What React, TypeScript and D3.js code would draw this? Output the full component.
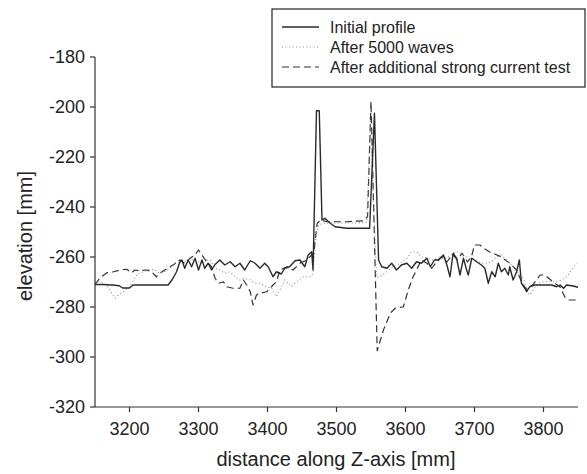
import React from "react";
import * as d3 from "d3";

type Pt = [number, number];

const xTicks = [3200, 3300, 3400, 3500, 3600, 3700, 3800];
const yTicks = [-180, -200, -220, -240, -260, -280, -300, -320];
const seriesNames = ["Initial profile", "After 5000 waves", "After additional strong current test"];

const initialProfile: Pt[] = [
  [3150,-271],[3160,-271],[3175,-271.2],[3185,-271.5],[3190,-272.4],[3200,-272.4],[3205,-271.2],[3256,-271.2],
  [3262,-269],[3268,-266],[3273,-262],[3276,-261.2],[3280,-264.5],[3285,-261.2],[3290,-263.9],[3295,-260.5],
  [3300,-265.2],[3305,-261.2],[3309,-264.5],[3314,-262.5],[3319,-265.2],[3324,-263],[3331,-261.2],[3338,-263.2],
  [3346,-261.9],[3353,-263.9],[3360,-262.5],[3367,-265.2],[3375,-261.5],[3382,-262.5],[3389,-264.5],[3396,-262.5],
  [3401,-263.9],[3408,-267.9],[3413,-265.9],[3420,-266.8],[3425,-264.5],[3432,-263.9],[3440,-261.5],[3447,-261.2],
  [3454,-263.9],[3459,-259.2],[3464,-257.9],[3466,-265.2],[3471,-201.5],[3475,-201.5],[3479,-245.2],[3483,-244.5],
  [3491,-246.5],[3498,-247.9],[3515,-248.5],[3548,-248.5],[3555,-202.5],[3561,-261.2],[3565.5,-263.9],[3573,-264.5],
  [3580,-262.5],[3587,-265.2],[3594,-263.2],[3602,-262.5],[3609,-264.5],[3616,-261.9],[3623,-262.5],[3631,-260.5],
  [3636,-263.9],[3642,-261.2],[3648,-261.2],[3655,-259.2],[3660,-263.2],[3664.5,-267.9],[3669,-258.5],[3674,-260.5],
  [3679,-267.2],[3684,-260.5],[3688.6,-265.2],[3691,-267.2],[3696,-260.5],[3703,-261.9],[3710,-263.2],[3715,-264.5],
  [3720,-270.5],[3725,-265.9],[3730,-267.9],[3734.5,-262.5],[3739,-265.9],[3744,-264.5],[3749,-267.2],[3751,-263.9],
  [3756,-269.2],[3761,-265.9],[3765,-261.2],[3768,-270.5],[3773,-272.5],[3775.6,-273.9],[3780,-271.9],[3787.6,-271.2],
  [3800,-271.2],[3812,-271.2],[3819,-271.9],[3824,-271.2],[3829,-272.5],[3833.5,-271.2],[3843,-271.6],[3850,-272.1],
];

const after5000Waves: Pt[] = [
  [3150,-270],[3157,-269.9],[3167,-271.2],[3174,-274.5],[3179,-276.5],[3184,-275.2],[3191,-273.9],[3198,-272.5],
  [3203,-270.5],[3208,-268.5],[3213,-266.5],[3220,-265.9],[3230,-264.9],[3237,-265.2],[3244,-266.5],[3249,-266.3],
  [3254,-265.2],[3261,-263.9],[3266,-262.3],[3271,-261.5],[3278,-261.9],[3285,-261.2],[3292,-260.9],[3302,-261.9],
  [3307,-260.5],[3312,-261.2],[3317,-261.2],[3324,-264.5],[3331,-265.2],[3338,-266.5],[3346,-265.9],[3353,-267.9],
  [3360,-269.2],[3367,-268.5],[3375,-269.2],[3382,-270.5],[3389,-270.5],[3399,-271.9],[3406,-272.5],[3413,-275.9],
  [3418,-273.2],[3425,-269.2],[3430,-270.5],[3435,-271.9],[3442,-269.9],[3452,-267.9],[3462,-267.9],[3466,-266.5],
  [3470,-251.9],[3474,-247.2],[3481,-246.5],[3544,-246.2],[3549,-205],[3558,-268],[3563,-267.9],[3573,-265.9],
  [3582,-263.9],[3592,-262.5],[3602,-260.5],[3609,-257.9],[3616,-257.9],[3623,-259.9],[3631,-260.5],[3640,-261.2],
  [3650,-259.9],[3660,-260.5],[3669,-258.5],[3677,-257.9],[3684,-259.2],[3693,-260.5],[3703,-261.2],[3710,-262.5],
  [3718,-262.5],[3725,-261.9],[3732,-259.9],[3739,-259.2],[3744,-260.5],[3749,-261.9],[3756,-263.9],[3763.5,-266.5],
  [3771,-268.5],[3775.6,-273.2],[3780,-275.2],[3785,-273.2],[3792,-270.5],[3800,-269.9],[3819,-269.9],[3826,-269.2],
  [3833.5,-267.9],[3841,-265.2],[3848,-262.5],
];

const afterStrongCurrent: Pt[] = [
  [3150,-271],[3157,-268.5],[3167,-266.3],[3177,-265.9],[3186,-265.2],[3196,-264.9],[3203,-266.3],[3208,-265.2],
  [3215,-265.5],[3225,-265.2],[3232,-265.9],[3239,-267.9],[3244,-266.5],[3251,-265.2],[3259,-263.9],[3268,-262.3],
  [3273,-261.2],[3280,-262.5],[3288,-260.5],[3295,-259.2],[3300,-257.2],[3305,-259.2],[3312,-261.9],[3319,-263.9],
  [3324,-268.5],[3329,-270.5],[3336,-269.9],[3341,-271.9],[3350,-272.5],[3360,-272.5],[3365,-269.2],[3370,-271.2],
  [3375,-273.9],[3379,-279.2],[3384,-275.2],[3389,-274.5],[3399,-273.9],[3404,-272.5],[3408,-271.2],[3413,-269.9],
  [3418,-265.2],[3428,-263.9],[3437,-265.2],[3447,-262.5],[3457,-261.2],[3464,-259.2],[3467,-258.5],[3472,-246.5],
  [3478,-245.2],[3486,-245.9],[3515,-245.9],[3539,-245.5],[3545,-243.9],[3550,-197.9],[3559,-297.5],[3568,-289.2],
  [3578,-282.5],[3585,-280.5],[3597,-279.9],[3604,-273.2],[3611,-267.9],[3616,-265.2],[3623,-261.2],[3631,-262.5],
  [3638,-264.5],[3645,-262],[3652,-260],[3660,-262],[3668,-259],[3675,-261],[3682,-258.5],[3690,-262],
  [3696,-259.5],[3700,-255.2],[3708,-255.2],[3713,-256.5],[3722,-258],[3727,-258.5],[3739,-260],[3751,-262.5],
  [3761,-265.2],[3770,-271],[3776,-273],[3785,-271],[3795,-267.2],[3802,-267.2],[3814,-270],[3824,-272],
  [3831,-276],[3836,-277.2],[3848,-277.2],
];

const FONT = '"Liberation Sans", Arial, Helvetica, sans-serif';

export default function App() {
  const W = 587, H = 474;
  const x = d3.scaleLinear().domain([3150, 3850]).range([95, 578]);
  const y = d3.scaleLinear().domain([-320, -180]).range([407, 57]);
  const line = d3.line<Pt>().x((d) => x(d[0])).y((d) => y(d[1]));

  const styles = [
    { stroke: "#2a2a2a", width: 1.4, dash: "none" },
    { stroke: "#8a8a8a", width: 1.1, dash: "1,2.5" },
    { stroke: "#333", width: 1.2, dash: "7,4" },
  ];
  const data = [initialProfile, after5000Waves, afterStrongCurrent];
  const axisColor = "#333";
  const x0 = x.range()[0];
  const yBottom = y(-320);

  return (
    <svg width={W} height={H} style={{ position: "absolute", left: 0, top: 0, background: "#fff" }} fontFamily={FONT}>
      {/* data lines */}
      {[2, 1, 0].map((i) => (
        <path key={i} d={line(data[i]) || ""} fill="none" stroke={styles[i].stroke}
          strokeWidth={styles[i].width} strokeDasharray={styles[i].dash} strokeLinejoin="round" />
      ))}
      {/* y axis */}
      <line x1={x0} x2={x0} y1={y(-180)} y2={yBottom} stroke={axisColor} strokeWidth={1.2} />
      {yTicks.map((t) => (
        <g key={t}>
          <line x1={x0 - 5} x2={x0} y1={y(t)} y2={y(t)} stroke={axisColor} strokeWidth={1.2} />
          <text x={x0 - 10} y={y(t)} dy="0.36em" textAnchor="end" fontSize={18} fill="#222">{t}</text>
        </g>
      ))}
      {/* x axis */}
      <line x1={x0} x2={x.range()[1]} y1={yBottom} y2={yBottom} stroke={axisColor} strokeWidth={1.2} />
      {xTicks.map((t) => (
        <g key={t}>
          <line x1={x(t)} x2={x(t)} y1={yBottom} y2={yBottom + 5} stroke={axisColor} strokeWidth={1.2} />
          <text x={x(t)} y={yBottom + 28} textAnchor="middle" fontSize={18} fill="#222">{t}</text>
        </g>
      ))}
      <text x={336} y={466} textAnchor="middle" fontSize={20} fill="#222">distance along Z-axis [mm]</text>
      <text transform={`translate(32, 236) rotate(-90)`} textAnchor="middle" fontSize={20} fill="#222">elevation [mm]</text>
      {/* legend */}
      <rect x={272} y={9} width={313} height={78} fill="#fff" stroke="#222" strokeWidth={1.2} />
      {seriesNames.map((name, i) => (
        <g key={name}>
          <line x1={282} x2={319} y1={27 + i * 20} y2={27 + i * 20} stroke={styles[i].stroke}
            strokeWidth={styles[i].width} strokeDasharray={styles[i].dash} />
          <text x={330} y={27 + i * 20} dy="0.36em" fontSize={16} fill="#222">{name}</text>
        </g>
      ))}
    </svg>
  );
}
